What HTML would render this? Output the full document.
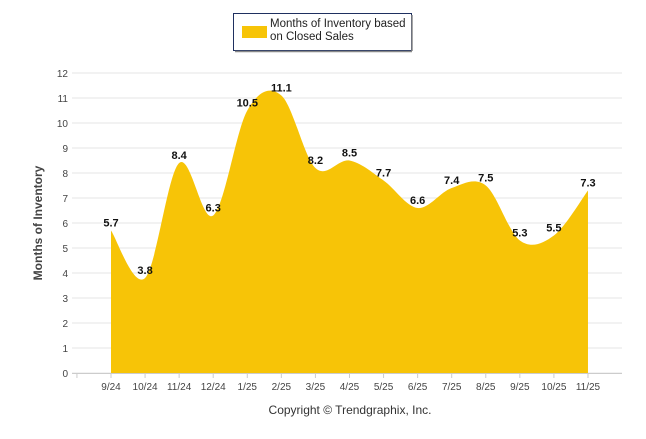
<!DOCTYPE html>
<html><head><meta charset="utf-8"><style>
body{margin:0;background:#fff;width:646px;height:434px;overflow:hidden;font-family:"Liberation Sans",sans-serif}
</style></head><body>
<svg id="chart" width="646" height="434" xmlns="http://www.w3.org/2000/svg">
<g id="grid"></g>
<g id="series"></g>
<g id="labels"></g>
<g id="yaxis"></g>
<g id="xaxis"></g>
<text transform="translate(42,223) rotate(-90)" text-anchor="middle" font-size="12" font-weight="bold" fill="#444">Months of Inventory</text>
<g>
<rect x="233.5" y="13.5" width="178" height="37" fill="#fff" stroke="#1f3060" stroke-width="1"/>
<line x1="412" y1="15" x2="412" y2="51" stroke="#888" stroke-width="1.5"/>
<line x1="235" y1="51.5" x2="412" y2="51.5" stroke="#888" stroke-width="1.5"/>
<rect x="242" y="26" width="25" height="12" fill="#F7C407"/>
<text x="270" y="27" font-size="11.5" fill="#222">Months of Inventory based</text>
<text x="270" y="40" font-size="11.5" fill="#222">on Closed Sales</text>
</g>
<text x="350" y="414" text-anchor="middle" font-size="12" fill="#333">Copyright © Trendgraphix, Inc.</text>
</svg>
<script>
const categories=["9/24","10/24","11/24","12/24","1/25","2/25","3/25","4/25","5/25","6/25","7/25","8/25","9/25","10/25","11/25"];
const values=[5.7,3.8,8.4,6.3,10.5,11.1,8.2,8.5,7.7,6.6,7.4,7.5,5.3,5.5,7.3];
const yTicks=[0,1,2,3,4,5,6,7,8,9,10,11,12];
const NS="http://www.w3.org/2000/svg";
function mk(t,a,p){const e=document.createElementNS(NS,t);for(const k in a)e.setAttribute(k,a[k]);p.appendChild(e);return e;}
const x0=111,step=34.07,yb=373,yt=73,ymax=12;
const X=i=>x0+i*step;
const Y=v=>yb-(v/ymax)*(yb-yt);
const grid=document.getElementById('grid'),ya=document.getElementById('yaxis'),xa=document.getElementById('xaxis');
yTicks.forEach(t=>{
 const l=mk('line',{x1:72,x2:622,y1:Y(t),y2:Y(t),stroke:'#e6e6e6','stroke-width':1},grid);
 
 
 const tx=mk('text',{x:68,y:Y(t)+4,'text-anchor':'end','font-size':10,fill:'#444'},ya);tx.textContent=t;
 
 
});
mk('line',{x1:72,x2:622,y1:yb+0.5,y2:yb+0.5,stroke:'#ccc'},xa);
mk('line',{x1:X(-1),x2:X(-1),y1:yb,y2:yb+5,stroke:'#ccc'},xa);
categories.forEach((c,i)=>{
 mk('line',{x1:X(i),x2:X(i),y1:yb,y2:yb+5,stroke:'#ccc'},xa);
 const tx=mk('text',{x:X(i),y:yb+17,'text-anchor':'middle','font-size':10,fill:'#444'},xa);tx.textContent=c;
 
 
});
// Catmull-Rom spline
const pts=values.map((v,i)=>[X(i),Y(v)]);
let d=`M${pts[0][0]},${yb} L${pts[0][0]},${pts[0][1]}`;
for(let i=0;i<pts.length-1;i++){
 const p0=pts[i-1]||pts[i],p1=pts[i],p2=pts[i+1],p3=pts[i+2]||p2;
 const c1=[p1[0]+(p2[0]-p0[0])/6,p1[1]+(p2[1]-p0[1])/6];
 const c2=[p2[0]-(p3[0]-p1[0])/6,p2[1]-(p3[1]-p1[1])/6];
 d+=` C${c1[0]},${c1[1]} ${c2[0]},${c2[1]} ${p2[0]},${p2[1]}`;
}
d+=` L${pts[pts.length-1][0]},${yb} Z`;
const area=mk('path',{d:d,fill:'#F7C407'},document.getElementById('series'));


const lg=document.getElementById('labels');
values.forEach((v,i)=>{
 const t=mk('text',{x:X(i),y:Y(v)-4,'text-anchor':'middle','font-size':11,'font-weight':'bold',fill:'#111'},lg);
 t.textContent=v.toFixed(1);
 
 
});
</script>
</body></html>
